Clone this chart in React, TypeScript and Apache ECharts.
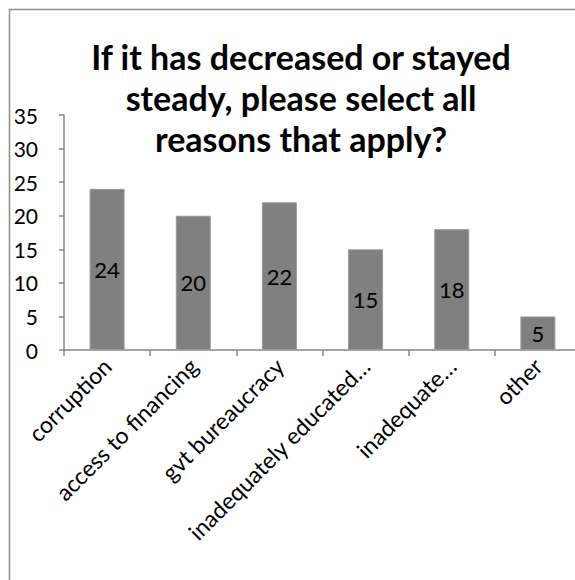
import React, { useEffect, useRef } from "react";
import * as echarts from "echarts";

const titleText = "If it has decreased or stayed\nsteady, please select all\nreasons that apply?";
const categories = [
  "corruption",
  "access to financing",
  "gvt bureaucracy",
  "inadequately educated…",
  "inadequate…",
  "other",
];
const counts = [24, 20, 22, 15, 18, 5];
const yMin = 0;
const yMax = 35;
const yStep = 5;

const FONT = "Lato, 'Open Sans', sans-serif";

export default function App() {
  const ref = useRef<HTMLDivElement>(null);

  useEffect(() => {
    if (!ref.current) return;
    const chart = echarts.init(ref.current, null, { renderer: "svg" });
    chart.setOption({
      animation: false,
      backgroundColor: "#ffffff",
      textStyle: { fontFamily: FONT },
      graphic: [
        {
          type: "rect",
          shape: { x: 9.5, y: 9.5, width: 620, height: 620 },
          style: { fill: "none", stroke: "#8c8c8c", lineWidth: 1.5 },
          silent: true,
          z: 100,
        },
      ],
      title: {
        text: titleText,
        left: 296,
        textAlign: "center",
        top: 31,
        textStyle: {
          fontFamily: FONT,
          fontWeight: "bold",
          fontSize: 34,
          lineHeight: 41,
          color: "#000000",
        },
      },
      grid: {
        left: 64,
        right: -6,
        top: 115,
        bottom: 230,
        containLabel: false,
        outerBoundsMode: "none",
      },
      xAxis: {
        type: "category",
        data: categories,
        boundaryGap: true,
        axisLine: { lineStyle: { color: "#868686", width: 1.5 } },
        axisTick: { show: true, alignWithLabel: false, length: 6, lineStyle: { color: "#868686", width: 1.5 } },
        axisLabel: {
          interval: 0,
          rotate: 45,
          margin: 12,
          fontSize: 23,
          color: "#000000",
          fontFamily: FONT,
        },
        splitLine: { show: false },
      },
      yAxis: {
        type: "value",
        min: yMin,
        max: yMax,
        interval: yStep,
        axisLine: { show: true, lineStyle: { color: "#868686", width: 1.5 } },
        axisTick: { show: true, length: 5, lineStyle: { color: "#868686", width: 1.5 } },
        axisLabel: { margin: 26, fontSize: 21, color: "#000000", fontFamily: FONT },
        splitLine: { show: false },
      },
      series: [
        {
          type: "bar",
          data: counts,
          barWidth: 35,
          itemStyle: { color: "#808080", borderColor: "#9a9a9a", borderWidth: 1 },
          label: {
            show: true,
            position: "inside",
            fontSize: 22,
            color: "#000000",
            fontFamily: FONT,
          },
        },
      ],
    });
    return () => chart.dispose();
  }, []);

  return (
    <div
      ref={ref}
      style={{ position: "absolute", left: 0, top: 0, width: 575, height: 580 }}
    />
  );
}
